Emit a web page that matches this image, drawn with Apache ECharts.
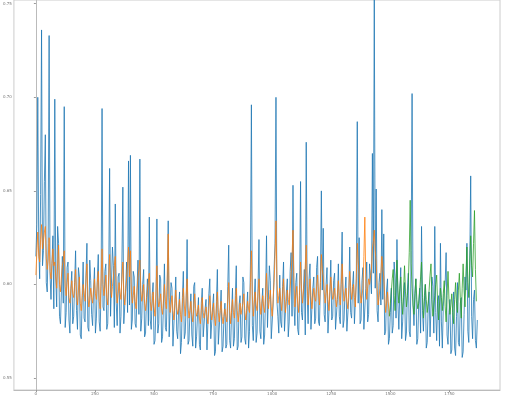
<!DOCTYPE html>
<html>
<head>
<meta charset="utf-8">
<script src="https://cdn.jsdelivr.net/npm/echarts@6/dist/echarts.min.js"></script>
<style>
  html, body { margin: 0; padding: 0; background: #fff; }
  #chart { width: 508px; height: 401px; }
</style>
</head>
<body>
<div id="chart"></div>
<script>
// sample spacing along x (data units)
const xStep = 4;

// actual series, x = 0 .. 1868
const actualStart = 0;
const actualValues = [
  0.615, 0.632, 0.700, 0.621, 0.603, 0.648, 0.736, 0.610, 0.618, 0.655, 0.680, 0.601, 0.596, 0.622, 0.733, 0.605, 0.592, 0.611, 0.626, 0.587,
  0.699, 0.604, 0.588, 0.631, 0.622, 0.583, 0.579, 0.596, 0.615, 0.590, 0.695, 0.577, 0.585, 0.609, 0.612, 0.581, 0.574, 0.598, 0.607, 0.579,
  0.583, 0.601, 0.618, 0.586, 0.576, 0.609, 0.604, 0.573, 0.571, 0.594, 0.612, 0.582, 0.580, 0.605, 0.622, 0.577, 0.575, 0.613, 0.602, 0.584,
  0.578, 0.597, 0.609, 0.574, 0.582, 0.603, 0.616, 0.580, 0.575, 0.599, 0.694, 0.588, 0.586, 0.607, 0.611, 0.576, 0.579, 0.601, 0.662, 0.583,
  0.584, 0.620, 0.610, 0.577, 0.643, 0.590, 0.578, 0.604, 0.606, 0.574, 0.583, 0.611, 0.652, 0.579, 0.580, 0.598, 0.612, 0.585, 0.666, 0.589,
  0.669, 0.576, 0.581, 0.607, 0.604, 0.579, 0.577, 0.597, 0.613, 0.584, 0.667, 0.575, 0.582, 0.600, 0.608, 0.572, 0.574, 0.593, 0.603, 0.578,
  0.636, 0.581, 0.576, 0.594, 0.601, 0.568, 0.570, 0.588, 0.635, 0.574, 0.579, 0.605, 0.603, 0.569, 0.572, 0.590, 0.611, 0.577, 0.575, 0.596,
  0.634, 0.572, 0.573, 0.601, 0.598, 0.567, 0.566, 0.590, 0.604, 0.575, 0.571, 0.587, 0.596, 0.563, 0.569, 0.593, 0.607, 0.571, 0.574, 0.589,
  0.624, 0.568, 0.570, 0.586, 0.595, 0.573, 0.567, 0.599, 0.601, 0.566, 0.572, 0.584, 0.593, 0.568, 0.565, 0.590, 0.598, 0.572, 0.571, 0.587,
  0.592, 0.565, 0.566, 0.595, 0.603, 0.571, 0.570, 0.588, 0.595, 0.562, 0.564, 0.591, 0.608, 0.568, 0.569, 0.586, 0.597, 0.564, 0.567, 0.583,
  0.590, 0.566, 0.568, 0.599, 0.621, 0.570, 0.566, 0.585, 0.598, 0.567, 0.571, 0.594, 0.610, 0.565, 0.567, 0.589, 0.594, 0.569, 0.572, 0.604,
  0.601, 0.571, 0.568, 0.587, 0.596, 0.566, 0.575, 0.612, 0.696, 0.578, 0.570, 0.592, 0.603, 0.569, 0.574, 0.598, 0.624, 0.575, 0.571, 0.590,
  0.598, 0.568, 0.573, 0.594, 0.626, 0.577, 0.576, 0.610, 0.602, 0.571, 0.570, 0.589, 0.608, 0.622, 0.700, 0.591, 0.583, 0.574, 0.605, 0.580,
  0.577, 0.599, 0.612, 0.575, 0.574, 0.596, 0.603, 0.572, 0.580, 0.607, 0.617, 0.583, 0.653, 0.590, 0.578, 0.601, 0.606, 0.576, 0.573, 0.594,
  0.655, 0.585, 0.581, 0.597, 0.608, 0.573, 0.676, 0.594, 0.579, 0.603, 0.611, 0.576, 0.576, 0.598, 0.604, 0.579, 0.582, 0.609, 0.615, 0.580,
  0.578, 0.601, 0.650, 0.597, 0.630, 0.584, 0.580, 0.600, 0.609, 0.574, 0.575, 0.596, 0.613, 0.581, 0.583, 0.602, 0.606, 0.576, 0.577, 0.592,
  0.611, 0.583, 0.579, 0.604, 0.628, 0.577, 0.581, 0.596, 0.604, 0.575, 0.576, 0.593, 0.620, 0.585, 0.582, 0.599, 0.607, 0.579, 0.578, 0.603,
  0.687, 0.590, 0.625, 0.579, 0.581, 0.602, 0.609, 0.576, 0.577, 0.598, 0.612, 0.580, 0.584, 0.611, 0.605, 0.595, 0.670, 0.606, 0.752, 0.598,
  0.651, 0.586, 0.580, 0.601, 0.606, 0.589, 0.640, 0.592, 0.627, 0.573, 0.575, 0.597, 0.603, 0.568, 0.571, 0.585, 0.598, 0.574, 0.578, 0.612,
  0.604, 0.582, 0.624, 0.590, 0.576, 0.596, 0.609, 0.571, 0.580, 0.593, 0.601, 0.570, 0.574, 0.597, 0.606, 0.575, 0.572, 0.618, 0.702, 0.589,
  0.578, 0.595, 0.603, 0.568, 0.571, 0.590, 0.598, 0.574, 0.631, 0.586, 0.575, 0.594, 0.600, 0.566, 0.569, 0.588, 0.596, 0.572, 0.573, 0.604,
  0.599, 0.574, 0.631, 0.585, 0.570, 0.591, 0.594, 0.567, 0.622, 0.580, 0.566, 0.588, 0.597, 0.601, 0.617, 0.573, 0.568, 0.585, 0.592, 0.563,
  0.565, 0.587, 0.596, 0.566, 0.562, 0.583, 0.601, 0.569, 0.567, 0.590, 0.593, 0.561, 0.564, 0.584, 0.604, 0.597, 0.622, 0.575, 0.569, 0.612,
  0.658, 0.583, 0.571, 0.592, 0.597, 0.570, 0.566, 0.581
];

// fitted (train) series, x = 0 .. 1496
const trainStart = 0;
const trainValues = [
  0.605, 0.617, 0.628, 0.615, 0.612, 0.624, 0.632, 0.619, 0.620, 0.628, 0.631, 0.614, 0.608, 0.613, 0.625, 0.607, 0.603, 0.611, 0.619, 0.610,
  0.612, 0.604, 0.598, 0.611, 0.621, 0.600, 0.596, 0.604, 0.610, 0.613, 0.618, 0.599, 0.594, 0.601, 0.606, 0.593, 0.590, 0.597, 0.602, 0.595,
  0.593, 0.600, 0.608, 0.594, 0.589, 0.597, 0.604, 0.590, 0.586, 0.593, 0.600, 0.596, 0.591, 0.603, 0.611, 0.594, 0.588, 0.592, 0.598, 0.593,
  0.590, 0.597, 0.603, 0.595, 0.592, 0.601, 0.607, 0.591, 0.587, 0.603, 0.619, 0.600, 0.594, 0.599, 0.605, 0.593, 0.589, 0.604, 0.616, 0.598,
  0.593, 0.599, 0.604, 0.610, 0.615, 0.596, 0.590, 0.595, 0.601, 0.596, 0.592, 0.603, 0.612, 0.595, 0.589, 0.597, 0.603, 0.611, 0.620, 0.604,
  0.618, 0.596, 0.590, 0.594, 0.599, 0.591, 0.587, 0.597, 0.604, 0.608, 0.613, 0.597, 0.591, 0.595, 0.600, 0.590, 0.586, 0.592, 0.597, 0.601,
  0.606, 0.591, 0.586, 0.590, 0.596, 0.588, 0.583, 0.596, 0.610, 0.593, 0.588, 0.591, 0.595, 0.587, 0.584, 0.592, 0.600, 0.591, 0.587, 0.606,
  0.627, 0.593, 0.585, 0.589, 0.594, 0.586, 0.581, 0.589, 0.597, 0.588, 0.584, 0.587, 0.592, 0.584, 0.580, 0.590, 0.598, 0.589, 0.583, 0.594,
  0.603, 0.588, 0.582, 0.586, 0.591, 0.584, 0.580, 0.587, 0.595, 0.587, 0.583, 0.585, 0.589, 0.582, 0.579, 0.586, 0.593, 0.585, 0.582, 0.585,
  0.588, 0.583, 0.579, 0.587, 0.594, 0.586, 0.581, 0.585, 0.590, 0.582, 0.578, 0.588, 0.596, 0.585, 0.580, 0.586, 0.591, 0.583, 0.579, 0.583,
  0.587, 0.583, 0.580, 0.592, 0.601, 0.587, 0.579, 0.586, 0.592, 0.585, 0.582, 0.590, 0.598, 0.586, 0.580, 0.585, 0.590, 0.584, 0.583, 0.590,
  0.595, 0.586, 0.581, 0.586, 0.591, 0.587, 0.585, 0.601, 0.618, 0.594, 0.583, 0.590, 0.596, 0.589, 0.586, 0.595, 0.603, 0.591, 0.584, 0.589,
  0.594, 0.588, 0.585, 0.596, 0.606, 0.593, 0.587, 0.592, 0.597, 0.588, 0.583, 0.592, 0.601, 0.615, 0.634, 0.603, 0.590, 0.594, 0.598, 0.591,
  0.586, 0.595, 0.603, 0.592, 0.585, 0.591, 0.597, 0.592, 0.589, 0.598, 0.606, 0.615, 0.629, 0.601, 0.588, 0.594, 0.599, 0.590, 0.585, 0.597,
  0.612, 0.598, 0.590, 0.596, 0.601, 0.610, 0.621, 0.599, 0.589, 0.596, 0.603, 0.594, 0.587, 0.593, 0.598, 0.593, 0.591, 0.599, 0.605, 0.595,
  0.589, 0.601, 0.616, 0.608, 0.604, 0.596, 0.590, 0.595, 0.600, 0.592, 0.586, 0.596, 0.604, 0.597, 0.592, 0.594, 0.598, 0.592, 0.588, 0.595,
  0.602, 0.594, 0.589, 0.600, 0.611, 0.598, 0.591, 0.594, 0.598, 0.591, 0.587, 0.597, 0.607, 0.599, 0.592, 0.596, 0.600, 0.593, 0.588, 0.604,
  0.622, 0.612, 0.605, 0.596, 0.590, 0.594, 0.598, 0.615, 0.636, 0.603, 0.592, 0.598, 0.603, 0.600, 0.599, 0.608, 0.619, 0.623, 0.629, 0.618,
  0.612, 0.598, 0.589, 0.593, 0.598, 0.606, 0.615, 0.609, 0.604, 0.594, 0.585, 0.590, 0.596, 0.589, 0.583
];

// predicted (test) series, x = 1496 .. 1864
const testStart = 1496;
const testValues = [
  0.583, 0.590, 0.596, 0.603, 0.608, 0.594, 0.586, 0.601, 0.613, 0.597, 0.590, 0.598, 0.604, 0.591, 0.584, 0.597, 0.610, 0.596, 0.588, 0.594,
  0.601, 0.617, 0.645, 0.611, 0.598, 0.589, 0.584, 0.595, 0.603, 0.592, 0.587, 0.590, 0.596, 0.604, 0.612, 0.593, 0.582, 0.591, 0.600, 0.592,
  0.585, 0.590, 0.597, 0.605, 0.611, 0.592, 0.583, 0.588, 0.594, 0.600, 0.605, 0.590, 0.581, 0.589, 0.598, 0.593, 0.586, 0.595, 0.602, 0.588,
  0.580, 0.594, 0.607, 0.592, 0.584, 0.589, 0.595, 0.585, 0.579, 0.592, 0.601, 0.590, 0.585, 0.597, 0.606, 0.593, 0.582, 0.598, 0.611, 0.597,
  0.588, 0.605, 0.620, 0.601, 0.593, 0.612, 0.626, 0.610, 0.604, 0.622, 0.6395, 0.608, 0.591
];

const xTicks = [0, 250, 500, 750, 1000, 1250, 1500, 1750];
const yTicks = [0.55, 0.60, 0.65, 0.70, 0.75];

function toPairs(start, values) {
  return values.map((v, i) => [start + i * xStep, v]);
}

function lineSeries(name, color, data) {
  return {
    name: name,
    type: 'line',
    data: data,
    showSymbol: false,
    symbol: 'none',
    sampling: null,
    lineStyle: { color: color, width: 0.8 },
    itemStyle: { color: color }
  };
}

const myChart = echarts.init(document.getElementById('chart'));
myChart.setOption({
  animation: false,
  backgroundColor: '#fff',
  textStyle: { fontFamily: 'DejaVu Sans' },
  grid: {
    left: 13, right: 8, top: 0, bottom: 11,
    show: true, borderColor: '#cccccc', borderWidth: 1
  },
  xAxis: {
    type: 'value',
    min: -93,
    max: 1964,
    splitLine: { show: false },
    axisLine: { show: true, onZero: false, lineStyle: { color: '#bbbbbb', width: 1 } },
    axisTick: { show: true, length: 2, customValues: xTicks, lineStyle: { color: '#999' } },
    axisLabel: {
      customValues: xTicks, fontSize: 4, color: '#777', margin: 2,
      formatter: v => String(v)
    }
  },
  yAxis: {
    type: 'value',
    min: 0.5436,
    max: 0.752,
    splitLine: { show: false },
    axisLine: { show: true, lineStyle: { color: '#bbbbbb', width: 1 } },
    axisTick: { show: true, length: 2, customValues: yTicks, lineStyle: { color: '#999' } },
    axisLabel: {
      customValues: yTicks, fontSize: 4, color: '#777', margin: 2,
      formatter: v => v.toFixed(2)
    }
  },
  series: [
    lineSeries('actual', '#1f77b4', toPairs(actualStart, actualValues)),
    lineSeries('train', '#ff7f0e', toPairs(trainStart, trainValues)),
    lineSeries('test', '#2ca02c', toPairs(testStart, testValues))
  ]
});
</script>
</body>
</html>
